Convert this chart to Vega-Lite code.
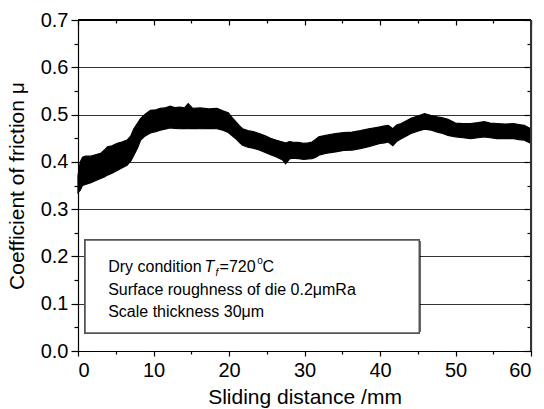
{
  "$schema": "https://vega.github.io/schema/vega-lite/v6.json",
  "width": 453,
  "height": 331,
  "autosize": {"type": "none"},
  "padding": {"left": 78, "top": 20, "right": 13, "bottom": 58},
  "background": "white",
  "config": {
    "view": {"stroke": "black", "strokeWidth": 1},
    "font": "Liberation Sans",
    "axis": {
      "domainColor": "black",
      "domainWidth": 1.2,
      "tickColor": "black",
      "tickWidth": 1.2,
      "labelColor": "black",
      "labelFont": "Liberation Sans",
      "labelFontSize": 20,
      "titleFont": "Liberation Sans",
      "titleFontSize": 21,
      "titleFontWeight": "normal",
      "titleColor": "black",
      "gridColor": "#333333",
      "gridWidth": 1
    }
  },
  "datasets": {
    "band": [
      {"d": 0, "lo": 0.335, "hi": 0.37},
      {"d": 0.3, "lo": 0.34, "hi": 0.4},
      {"d": 0.6, "lo": 0.35, "hi": 0.41},
      {"d": 1.0, "lo": 0.352, "hi": 0.412},
      {"d": 1.7, "lo": 0.356, "hi": 0.412},
      {"d": 2.3, "lo": 0.36, "hi": 0.415},
      {"d": 3.0, "lo": 0.365, "hi": 0.418},
      {"d": 3.5, "lo": 0.368, "hi": 0.425},
      {"d": 3.9, "lo": 0.372, "hi": 0.432},
      {"d": 4.5, "lo": 0.376, "hi": 0.434},
      {"d": 5.2, "lo": 0.382, "hi": 0.439},
      {"d": 5.8, "lo": 0.387, "hi": 0.442},
      {"d": 6.5, "lo": 0.393, "hi": 0.446},
      {"d": 7.0, "lo": 0.402, "hi": 0.455},
      {"d": 7.4, "lo": 0.414, "hi": 0.47},
      {"d": 7.9, "lo": 0.43, "hi": 0.482},
      {"d": 8.3, "lo": 0.446, "hi": 0.492},
      {"d": 8.9, "lo": 0.455, "hi": 0.501},
      {"d": 9.6, "lo": 0.461, "hi": 0.509},
      {"d": 10.3, "lo": 0.464, "hi": 0.51},
      {"d": 10.9, "lo": 0.467, "hi": 0.513},
      {"d": 11.5, "lo": 0.469, "hi": 0.514},
      {"d": 12.2, "lo": 0.472, "hi": 0.518},
      {"d": 12.8, "lo": 0.471, "hi": 0.515},
      {"d": 13.5, "lo": 0.47, "hi": 0.516},
      {"d": 14.1, "lo": 0.471, "hi": 0.514},
      {"d": 14.6, "lo": 0.47, "hi": 0.523},
      {"d": 15.2, "lo": 0.471, "hi": 0.513},
      {"d": 16.2, "lo": 0.47, "hi": 0.514},
      {"d": 17.3, "lo": 0.471, "hi": 0.512},
      {"d": 18.4, "lo": 0.47, "hi": 0.513},
      {"d": 19.2, "lo": 0.467, "hi": 0.508},
      {"d": 19.9, "lo": 0.462, "hi": 0.504},
      {"d": 20.5, "lo": 0.454, "hi": 0.492},
      {"d": 20.9, "lo": 0.449, "hi": 0.485},
      {"d": 21.4, "lo": 0.441, "hi": 0.476},
      {"d": 21.8, "lo": 0.435, "hi": 0.47},
      {"d": 22.5, "lo": 0.431, "hi": 0.466},
      {"d": 23.2, "lo": 0.429, "hi": 0.464},
      {"d": 24.0, "lo": 0.425, "hi": 0.46},
      {"d": 24.8, "lo": 0.42, "hi": 0.455},
      {"d": 25.5, "lo": 0.415, "hi": 0.45},
      {"d": 26.2, "lo": 0.411, "hi": 0.446},
      {"d": 27.1, "lo": 0.404, "hi": 0.442},
      {"d": 27.5, "lo": 0.396, "hi": 0.44},
      {"d": 28.0, "lo": 0.406, "hi": 0.443},
      {"d": 28.4, "lo": 0.408, "hi": 0.442},
      {"d": 29.2, "lo": 0.407, "hi": 0.441},
      {"d": 29.9, "lo": 0.405, "hi": 0.439},
      {"d": 30.5, "lo": 0.406, "hi": 0.44},
      {"d": 31.0, "lo": 0.407, "hi": 0.442},
      {"d": 31.5, "lo": 0.41, "hi": 0.448},
      {"d": 31.9, "lo": 0.414, "hi": 0.453},
      {"d": 32.8, "lo": 0.418, "hi": 0.456},
      {"d": 34.1, "lo": 0.421, "hi": 0.46},
      {"d": 35.2, "lo": 0.424, "hi": 0.462},
      {"d": 36.3, "lo": 0.425, "hi": 0.463},
      {"d": 37.4, "lo": 0.428, "hi": 0.466},
      {"d": 38.5, "lo": 0.432, "hi": 0.47},
      {"d": 39.3, "lo": 0.436, "hi": 0.472},
      {"d": 40.0, "lo": 0.439, "hi": 0.474},
      {"d": 40.6, "lo": 0.44, "hi": 0.476},
      {"d": 41.1, "lo": 0.442, "hi": 0.477},
      {"d": 41.7, "lo": 0.434, "hi": 0.47},
      {"d": 42.2, "lo": 0.443, "hi": 0.478},
      {"d": 42.8, "lo": 0.449, "hi": 0.481},
      {"d": 43.5, "lo": 0.455, "hi": 0.487},
      {"d": 44.1, "lo": 0.46, "hi": 0.492},
      {"d": 45.0, "lo": 0.465, "hi": 0.497},
      {"d": 45.9, "lo": 0.469, "hi": 0.502},
      {"d": 46.8, "lo": 0.467, "hi": 0.498},
      {"d": 47.6, "lo": 0.463, "hi": 0.495},
      {"d": 48.3, "lo": 0.46, "hi": 0.493},
      {"d": 49.0, "lo": 0.456, "hi": 0.49},
      {"d": 50.0, "lo": 0.453, "hi": 0.482},
      {"d": 51.0, "lo": 0.451, "hi": 0.481},
      {"d": 52.0, "lo": 0.449, "hi": 0.481},
      {"d": 53.0, "lo": 0.451, "hi": 0.483},
      {"d": 53.8, "lo": 0.453, "hi": 0.485},
      {"d": 54.6, "lo": 0.451, "hi": 0.482},
      {"d": 55.5, "lo": 0.449, "hi": 0.481},
      {"d": 56.6, "lo": 0.449, "hi": 0.48},
      {"d": 57.7, "lo": 0.449, "hi": 0.481},
      {"d": 58.4, "lo": 0.447, "hi": 0.479},
      {"d": 59.1, "lo": 0.446, "hi": 0.477},
      {"d": 59.6, "lo": 0.442, "hi": 0.473},
      {"d": 60.0, "lo": 0.439, "hi": 0.47}
    ]
  },
  "data": {"name": "band"},
  "layer": [
    {
      "mark": {"type": "area", "color": "black", "stroke": "black", "strokeWidth": 1.2},
      "encoding": {
        "x": {
          "field": "d", "type": "quantitative",
          "scale": {"domain": [0, 60], "nice": false, "zero": false},
          "axis": {
            "orient": "bottom",
            "title": "Sliding distance /mm",
            "values": [0, 5, 10, 15, 20, 25, 30, 35, 40, 45, 50, 55, 60],
            "labelExpr": "datum.value % 10 == 0 ? datum.label : ''",
            "tickSize": {"condition": {"test": "datum.value % 10 == 0", "value": 5}, "value": 3},
            "labelPadding": 4,
            "titlePadding": 6,
            "grid": false
          }
        },
        "y": {
          "field": "lo", "type": "quantitative",
          "scale": {"domain": [0, 0.7], "nice": false, "zero": false},
          "axis": {
            "orient": "left",
            "title": "Coefficient of friction  μ",
            "values": [0, 0.05, 0.1, 0.15, 0.2, 0.25, 0.3, 0.35, 0.4, 0.45, 0.5, 0.55, 0.6, 0.65, 0.7],
            "labelExpr": "round(datum.value * 20) % 2 == 0 ? format(datum.value, '.1f') : ''",
            "tickSize": {"condition": {"test": "round(datum.value * 20) % 2 == 0", "value": 7}, "value": 4},
            "labelPadding": 3,
            "titlePadding": 13,
            "grid": true,
            "gridOpacity": {"condition": {"test": "round(datum.value * 20) % 2 == 0 && datum.value > 0.01 && datum.value < 0.69", "value": 1}, "value": 0}
          }
        },
        "y2": {"field": "hi"}
      }
    },
    {
      "mark": {"type": "point", "opacity": 0},
      "encoding": {
        "x": {
          "field": "d", "type": "quantitative",
          "axis": {
            "orient": "top",
            "title": null,
            "labels": false,
            "values": [0, 5, 10, 15, 20, 25, 30, 35, 40, 45, 50, 55, 60],
            "tickSize": {"condition": {"test": "datum.value % 10 == 0", "value": -5}, "value": -3},
            "grid": false
          }
        },
        "y": {
          "field": "hi", "type": "quantitative",
          "axis": {
            "orient": "right",
            "title": null,
            "labels": false,
            "values": [0, 0.05, 0.1, 0.15, 0.2, 0.25, 0.3, 0.35, 0.4, 0.45, 0.5, 0.55, 0.6, 0.65, 0.7],
            "tickSize": {"condition": {"test": "round(datum.value * 20) % 2 == 0", "value": -7}, "value": -4},
            "grid": false
          }
        }
      }
    },
    {
      "mark": {"type": "rule", "color": "black", "strokeWidth": 1.5},
      "encoding": {
        "x": {"datum": 0, "type": "quantitative", "axis": null},
        "x2": {"datum": 60},
        "y": {"datum": 0.7, "type": "quantitative", "axis": null}
      }
    },
    {
      "mark": {"type": "rule", "color": "#333333", "strokeWidth": 2},
      "encoding": {
        "x": {"datum": 60, "type": "quantitative", "axis": null},
        "y": {"datum": 0, "type": "quantitative", "axis": null},
        "y2": {"datum": 0.7}
      }
    },
    {
      "mark": {"type": "rect", "fill": "white", "stroke": "#555555", "strokeWidth": 1.5},
      "encoding": {
        "x": {"datum": 0.93, "type": "quantitative", "axis": null},
        "x2": {"datum": 45.2},
        "y": {"datum": 0.038, "type": "quantitative", "axis": null},
        "y2": {"datum": 0.235}
      }
    },
    {
      "data": {"values": [{"t": "Dry condition"}]},
      "mark": {"type": "text", "align": "left", "baseline": "middle", "fontSize": 16, "font": "Liberation Sans", "color": "black"},
      "encoding": {
        "x": {"datum": 4.0, "type": "quantitative", "axis": null},
        "y": {"datum": 0.178, "type": "quantitative", "axis": null},
        "text": {"field": "t"}
      }
    },
    {
      "data": {"values": [{"t": "Surface roughness of die 0.2μmRa"}]},
      "mark": {"type": "text", "align": "left", "baseline": "middle", "fontSize": 16, "font": "Liberation Sans", "color": "black"},
      "encoding": {
        "x": {"datum": 4.0, "type": "quantitative", "axis": null},
        "y": {"datum": 0.13, "type": "quantitative", "axis": null},
        "text": {"field": "t"}
      }
    },
    {
      "data": {"values": [{"t": "Scale thickness 30μm"}]},
      "mark": {"type": "text", "align": "left", "baseline": "middle", "fontSize": 16, "font": "Liberation Sans", "color": "black"},
      "encoding": {
        "x": {"datum": 4.0, "type": "quantitative", "axis": null},
        "y": {"datum": 0.083, "type": "quantitative", "axis": null},
        "text": {"field": "t"}
      }
    },
    {
      "data": {"values": [{"t": "T"}]},
      "mark": {"type": "text", "align": "left", "baseline": "middle", "fontSize": 16, "fontStyle": "italic", "font": "Liberation Sans", "color": "black"},
      "encoding": {
        "x": {"datum": 16.75, "type": "quantitative", "axis": null},
        "y": {"datum": 0.178, "type": "quantitative", "axis": null},
        "text": {"field": "t"}
      }
    },
    {
      "data": {"values": [{"t": "f"}]},
      "mark": {"type": "text", "align": "left", "baseline": "middle", "fontSize": 10, "fontStyle": "italic", "font": "Liberation Sans", "color": "black"},
      "encoding": {
        "x": {"datum": 18.2, "type": "quantitative", "axis": null},
        "y": {"datum": 0.166, "type": "quantitative", "axis": null},
        "text": {"field": "t"}
      }
    },
    {
      "data": {"values": [{"t": "=720"}]},
      "mark": {"type": "text", "align": "left", "baseline": "middle", "fontSize": 16, "font": "Liberation Sans", "color": "black"},
      "encoding": {
        "x": {"datum": 18.75, "type": "quantitative", "axis": null},
        "y": {"datum": 0.178, "type": "quantitative", "axis": null},
        "text": {"field": "t"}
      }
    },
    {
      "data": {"values": [{"t": "o"}]},
      "mark": {"type": "text", "align": "left", "baseline": "middle", "fontSize": 10, "font": "Liberation Sans", "color": "black"},
      "encoding": {
        "x": {"datum": 23.75, "type": "quantitative", "axis": null},
        "y": {"datum": 0.19, "type": "quantitative", "axis": null},
        "text": {"field": "t"}
      }
    },
    {
      "data": {"values": [{"t": "C"}]},
      "mark": {"type": "text", "align": "left", "baseline": "middle", "fontSize": 16, "font": "Liberation Sans", "color": "black"},
      "encoding": {
        "x": {"datum": 24.45, "type": "quantitative", "axis": null},
        "y": {"datum": 0.178, "type": "quantitative", "axis": null},
        "text": {"field": "t"}
      }
    }
  ],
  "resolve": {"axis": {"x": "independent", "y": "independent"}}
}
